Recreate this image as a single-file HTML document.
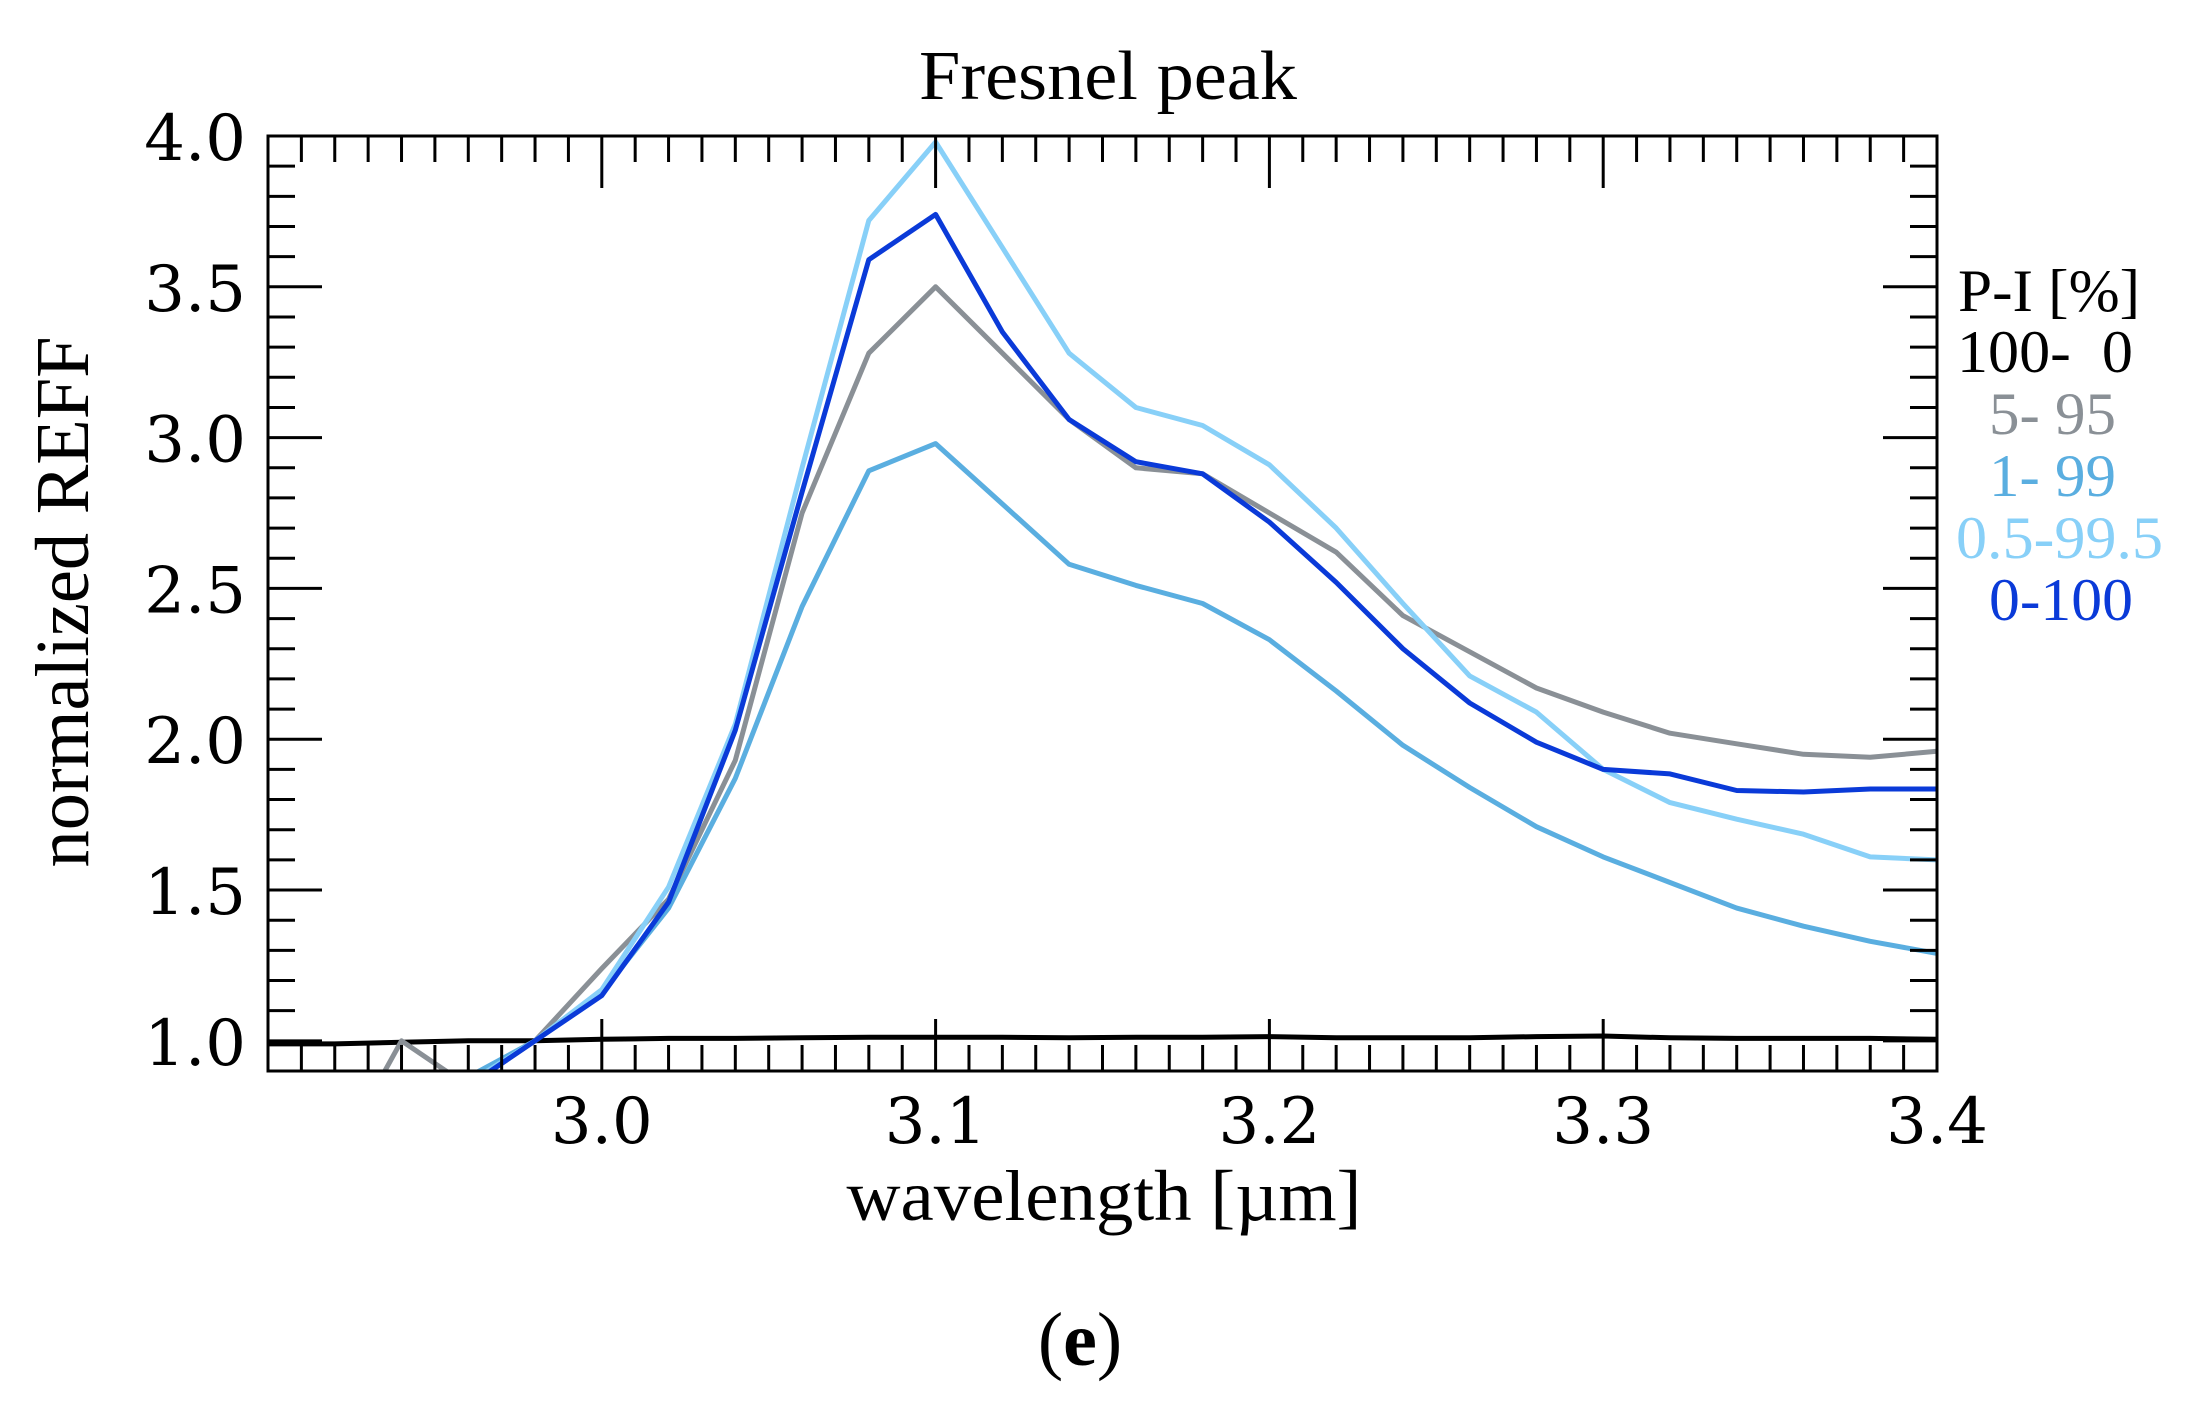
<!DOCTYPE html>
<html><head><meta charset="utf-8"><style>
html,body{margin:0;padding:0;background:#fff;}
svg{display:block;}
text{font-family:"Liberation Serif",serif;}
text.tick{font-family:"DejaVu Serif",serif;}
</style></head><body>
<svg id="chart" width="2200" height="1412" viewBox="0 0 2200 1412" xmlns="http://www.w3.org/2000/svg">
<defs><clipPath id="plotclip"><rect x="268" y="136" width="1669" height="935"/></clipPath></defs>
<text x="1108" y="99" font-size="70" text-anchor="middle" textLength="378" lengthAdjust="spacingAndGlyphs">Fresnel peak</text>
<g id="series" clip-path="url(#plotclip)"></g>
<g id="axes"></g>
<text x="1104" y="1220" font-size="72" text-anchor="middle" textLength="515" lengthAdjust="spacingAndGlyphs">wavelength [µm]</text>
<text transform="translate(88,602) rotate(-90)" font-size="76" text-anchor="middle" textLength="531" lengthAdjust="spacingAndGlyphs">normalized REFF</text>
<text x="1080" y="1365" font-size="76" text-anchor="middle">(<tspan font-weight="bold">e</tspan>)</text>
<g>
<text x="1958" y="311" font-size="60" textLength="182" lengthAdjust="spacingAndGlyphs">P-I [%]</text>
<text x="1957" y="372" font-size="60" fill="#000" xml:space="preserve" textLength="176" lengthAdjust="spacingAndGlyphs">100-  0</text>
<text x="1989" y="434" font-size="60" fill="#8a9096" textLength="127" lengthAdjust="spacingAndGlyphs">5- 95</text>
<text x="1989" y="496" font-size="60" fill="#5aaee0" textLength="127" lengthAdjust="spacingAndGlyphs">1- 99</text>
<text x="1956" y="558" font-size="60" fill="#88d0f8" textLength="207" lengthAdjust="spacingAndGlyphs">0.5-99.5</text>
<text x="1989" y="620" font-size="60" fill="#0a3ad8" textLength="144" lengthAdjust="spacingAndGlyphs">0-100</text>
</g>
</svg>
<script>
const wavelengths = [2.90,2.92,2.94,2.96,2.98,3.00,3.02,3.04,3.06,3.08,3.10,3.12,3.14,3.16,3.18,3.20,3.22,3.24,3.26,3.28,3.30,3.32,3.34,3.36,3.38,3.40];
const s100_0 = [0.99,0.99,0.995,1.0,1.0,1.005,1.008,1.008,1.01,1.012,1.012,1.012,1.01,1.012,1.012,1.014,1.01,1.01,1.01,1.014,1.016,1.01,1.008,1.008,1.008,1.005];
const s5_95 = [0.5,0.6,1.0,0.85,1.0,1.24,1.47,1.93,2.75,3.28,3.50,3.28,3.06,2.90,2.88,2.75,2.62,2.41,2.29,2.17,2.09,2.02,1.985,1.95,1.94,1.96];
const s1_99 = [0.5,0.6,0.7,0.88,1.0,1.16,1.44,1.87,2.44,2.89,2.98,2.78,2.58,2.51,2.45,2.33,2.16,1.98,1.84,1.71,1.61,1.525,1.44,1.38,1.33,1.29];
const s05_995 = [0.5,0.6,0.7,0.86,1.0,1.17,1.51,2.05,2.90,3.72,3.98,3.63,3.28,3.10,3.04,2.91,2.70,2.45,2.21,2.09,1.90,1.79,1.735,1.685,1.61,1.60];
const s0_100 = [0.5,0.6,0.7,0.85,1.0,1.15,1.46,2.03,2.82,3.59,3.74,3.35,3.06,2.92,2.88,2.72,2.52,2.30,2.12,1.99,1.90,1.885,1.83,1.825,1.835,1.835];
const xTickLabels = ["3.0","3.1","3.2","3.3","3.4"];
const yTickLabels = ["1.0","1.5","2.0","2.5","3.0","3.5","4.0"];

const X0=268,X1=1937,Y0=1071,Y1=136, XMIN=2.9,XMAX=3.4,YMIN=0.9,YMAX=4.0;
function sx(v){return X0+(v-XMIN)/(XMAX-XMIN)*(X1-X0);}
function sy(v){return Y0-(v-YMIN)/(YMAX-YMIN)*(Y0-Y1);}
const NS="http://www.w3.org/2000/svg";
const seriesG=document.getElementById('series');
const axesG=document.getElementById('axes');
function addLine(vals,color,w,name){
  const p=document.createElementNS(NS,'polyline');
  p.setAttribute('points',vals.map((v,i)=>sx(wavelengths[i]).toFixed(1)+','+sy(v).toFixed(1)).join(' '));
  p.setAttribute('fill','none');p.setAttribute('stroke',color);p.setAttribute('stroke-width',w);
  p.setAttribute('stroke-linejoin','round');
  
  
  seriesG.appendChild(p);
}
addLine(s100_0,'#000',5,'line-100-0');
addLine(s5_95,'#8a9096',5,'line-5-95');
addLine(s1_99,'#5aaee0',5,'line-1-99');
addLine(s05_995,'#88d0f8',5,'line-0.5-99.5');
addLine(s0_100,'#0a3ad8',5,'line-0-100');

function ln(x1,y1,x2,y2,name){
  const l=document.createElementNS(NS,'line');
  l.setAttribute('x1',x1);l.setAttribute('y1',y1);l.setAttribute('x2',x2);l.setAttribute('y2',y2);
  l.setAttribute('stroke','#000');l.setAttribute('stroke-width',3);
  
  
  axesG.appendChild(l);
}
const frame=document.createElementNS(NS,'rect');
frame.setAttribute('x',X0);frame.setAttribute('y',Y1);frame.setAttribute('width',X1-X0);frame.setAttribute('height',Y0-Y1);
frame.setAttribute('fill','none');frame.setAttribute('stroke','#000');frame.setAttribute('stroke-width',3);


axesG.appendChild(frame);
for(let i=1;i<50;i++){
  const v=XMIN+i*0.01, x=sx(v), major=(i%10===0), L=major?52:26;
  ln(x,Y0,x,Y0-L,'x-tick'); ln(x,Y1,x,Y1+L,'x-tick-top');
}
for(let i=1;i<31;i++){
  const v=YMIN+i*0.1, y=sy(v), major=(Math.round(v*10)%5===0), L=major?54:27;
  ln(X0,y,X0+L,y,'y-tick'); ln(X1,y,X1-L,y,'y-tick-right');
}
xTickLabels.forEach(s=>{
  const t=document.createElementNS(NS,'text');
  t.setAttribute('x',sx(parseFloat(s)));t.setAttribute('y',1143);
  t.setAttribute('font-size',64);t.setAttribute('text-anchor','middle');t.textContent=s;
  t.setAttribute('class','tick');
  
  
  axesG.appendChild(t);
});
yTickLabels.forEach(s=>{
  const t=document.createElementNS(NS,'text');
  t.setAttribute('x',246);t.setAttribute('y',sy(parseFloat(s))+24);
  t.setAttribute('font-size',64);t.setAttribute('text-anchor','end');t.textContent=s;
  t.setAttribute('class','tick');
  
  
  axesG.appendChild(t);
});
</script>
</body></html>
